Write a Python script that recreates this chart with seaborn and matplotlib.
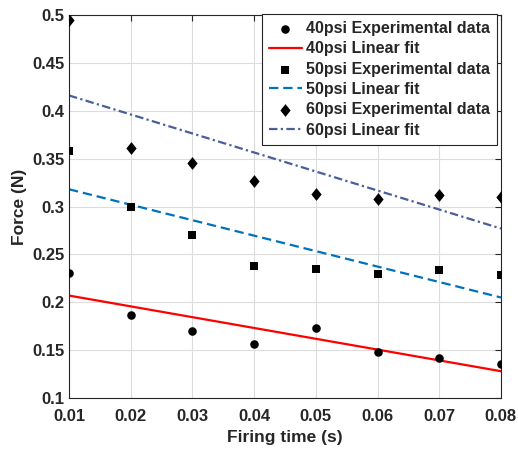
import numpy as np
import pandas as pd
import matplotlib
matplotlib.use("Agg")
import matplotlib.pyplot as plt
from matplotlib.path import Path
import seaborn as sns

time = [0.01, 0.02, 0.03, 0.04, 0.05, 0.06, 0.07, 0.08]
force_40 = [0.231, 0.187, 0.170, 0.156, 0.173, 0.148, 0.142, 0.136]
force_50 = [0.358, 0.300, 0.270, 0.238, 0.235, 0.230, 0.234, 0.228]
force_60 = [0.495, 0.361, 0.345, 0.327, 0.313, 0.308, 0.312, 0.310]
fit_x = [0.01, 0.08]
fit_40 = [0.207, 0.128]
fit_50 = [0.318, 0.205]
fit_60 = [0.416, 0.277]

sns.set_theme(style="white")
plt.rcParams['font.family'] = ['Liberation Sans', 'DejaVu Sans']
plt.rcParams['font.weight'] = 'bold'

diamond = Path([(0, 1), (0.8, 0), (0, -1), (-0.8, 0), (0, 1)],
               [Path.MOVETO, Path.LINETO, Path.LINETO, Path.LINETO, Path.CLOSEPOLY])

fig = plt.figure(figsize=(5.18, 4.51), dpi=100)
ax = fig.add_axes([0.1332, 0.1175, 0.8338, 0.8492])

sns.scatterplot(x=time, y=force_40, ax=ax, marker='o', s=38, color='black',
                edgecolor='black', linewidth=0, label='40psi Experimental data', zorder=3)
sns.lineplot(x=fit_x, y=fit_40, ax=ax, color='#FF0000', linewidth=1.6,
             label='40psi Linear fit')
sns.scatterplot(x=time, y=force_50, ax=ax, marker='s', s=30, color='black',
                edgecolor='black', linewidth=0, label='50psi Experimental data', zorder=3)
sns.lineplot(x=fit_x, y=fit_50, ax=ax, color='#0072BD', linewidth=1.6,
             label='50psi Linear fit')
sns.scatterplot(x=time, y=force_60, ax=ax, marker=diamond, s=85, color='black',
                edgecolor='black', linewidth=0, label='60psi Experimental data', zorder=3)
sns.lineplot(x=fit_x, y=fit_60, ax=ax, color='#4A5E99', linewidth=1.6,
             label='60psi Linear fit')

lines = ax.get_lines()
lines[1].set_dashes([4.2, 2.2])
lines[2].set_dashes([3.8, 1.5, 1.0, 1.5])

ax.set_xlim(0.01, 0.08)
ax.set_ylim(0.1, 0.5)
ax.set_xticks(time)
ax.set_xticklabels([f"{t:.2f}" for t in time])
yt = [0.1, 0.15, 0.2, 0.25, 0.3, 0.35, 0.4, 0.45, 0.5]
ax.set_yticks(yt)
ax.set_yticklabels(['0.1', '0.15', '0.2', '0.25', '0.3', '0.35', '0.4', '0.45', '0.5'])
ax.grid(True, color='#DCDCDC', linewidth=0.8)
ax.tick_params(axis='both', direction='in', length=4, width=0.8, colors='#262626',
               labelsize=12, top=True, right=True)
ax.tick_params(axis='x', pad=8)
ax.tick_params(axis='y', pad=3)
for lab in ax.get_xticklabels() + ax.get_yticklabels():
    lab.set_fontweight('bold')
for sp in ax.spines.values():
    sp.set_color('#262626')
    sp.set_linewidth(0.8)
ax.set_xlabel('Firing time (s)', fontsize=12.5, fontweight='bold', color='#262626', labelpad=4)
ax.set_ylabel('Force (N)', fontsize=12.5, fontweight='bold', color='#262626', labelpad=4)

leg = ax.legend(loc='upper right', bbox_to_anchor=(497 / 518, 1 - 14 / 451),
                bbox_transform=fig.transFigure, borderaxespad=0,
                fontsize=11.5, frameon=True, fancybox=False,
                edgecolor='#262626', framealpha=1, borderpad=0.45, labelspacing=0.33,
                handlelength=2.05, handletextpad=0.25)
leg.get_frame().set_linewidth(0.8)
for t in leg.get_texts():
    t.set_fontweight('bold')
    t.set_color('#262626')

fig.savefig('out.png', dpi=100)
